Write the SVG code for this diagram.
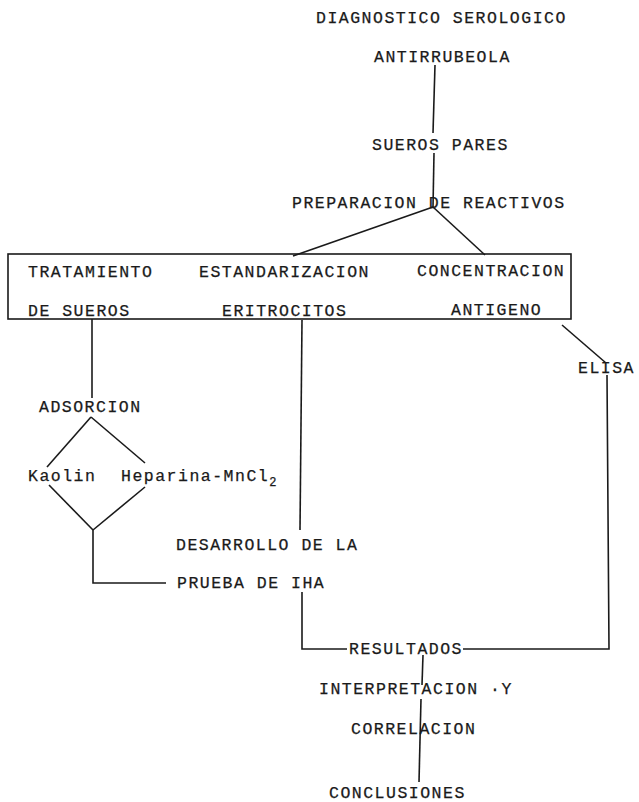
<svg xmlns="http://www.w3.org/2000/svg" width="639" height="802" viewBox="0 0 639 802">
<style>
text{font-family:"Liberation Mono","Courier New",monospace;font-size:16.5px;letter-spacing:1.5px;fill:#1a1a1a;stroke:#1a1a1a;stroke-width:0.25}
.c line,.c polyline{stroke:#1a1a1a;stroke-width:1.6;fill:none}
</style>
<rect width="639" height="802" fill="#fff"/>
<g class="c" id="connectors">
<line x1="435" y1="65" x2="433" y2="133"/>
<line x1="434" y1="153" x2="433" y2="207"/>
<line x1="433" y1="207" x2="293" y2="256"/>
<line x1="433" y1="207" x2="485" y2="255"/>
<line x1="92" y1="319" x2="92" y2="398"/>
<line x1="91" y1="417" x2="47" y2="467"/>
<line x1="91" y1="417" x2="145" y2="463"/>
<line x1="49" y1="485" x2="93" y2="530"/>
<line x1="145" y1="487" x2="93" y2="530"/>
<polyline points="93,530 93,583 166,583"/>
<line x1="302" y1="320" x2="300" y2="530"/>
<polyline points="302,592 302,649 347,649"/>
<polyline points="463,649 609,649 607,375"/>
<line x1="562" y1="325" x2="606" y2="363"/>
<line x1="423" y1="655" x2="422" y2="685"/>
<line x1="421" y1="699" x2="419" y2="782"/>
</g>
<g id="title"><text x="316" y="23">DIAGNOSTICO SEROLOGICO</text><text x="374" y="62">ANTIRRUBEOLA</text></g>
<g id="sueros"><text x="372" y="150">SUEROS PARES</text></g>
<g id="preparacion"><text x="292" y="208">PREPARACION DE REACTIVOS</text></g>
<g id="reactivos">
<rect x="8" y="254" width="563" height="65" fill="none" stroke="#1a1a1a" stroke-width="1.6"/>
<text x="28" y="277">TRATAMIENTO</text>
<text x="28" y="316">DE SUEROS</text>
<text x="199" y="277">ESTANDARIZACION</text>
<text x="222" y="316">ERITROCITOS</text>
<text x="417" y="276">CONCENTRACION</text>
<text x="451" y="315">ANTIGENO</text>
</g>
<g id="elisa"><text x="578" y="373">ELISA</text></g>
<g id="adsorcion"><text x="39" y="412">ADSORCION</text></g>
<g id="kaolin"><text x="28" y="481">Kaolin</text></g>
<g id="heparina"><text x="121" y="481">Heparina-MnCl<tspan dy="5" font-size="12">2</tspan></text></g>
<g id="prueba"><text x="176" y="550">DESARROLLO DE LA</text><text x="177" y="588">PRUEBA DE IHA</text></g>
<g id="resultados"><text x="349" y="654">RESULTADOS</text></g>
<g id="interpretacion"><text x="319" y="694">INTERPRETACION ·Y</text><text x="351" y="734">CORRELACION</text></g>
<g id="conclusiones"><text x="329" y="798">CONCLUSIONES</text></g>
</svg>
